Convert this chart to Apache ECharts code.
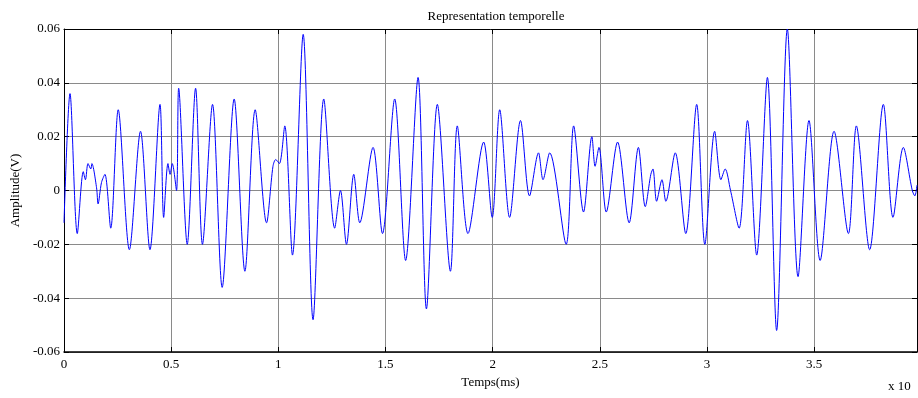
<!DOCTYPE html>
<html>
<head>
<meta charset="utf-8">
<script src="https://cdn.jsdelivr.net/npm/echarts@6/dist/echarts.min.js"></script>
<style>
  html, body { margin: 0; padding: 0; background: #fff; }
  #chart { width: 918px; height: 398px; }
</style>
</head>
<body>
<div id="chart"></div>
<script>
// temps (x 10^-3) et amplitude (V)
var temps = [
    0.000, 0.028, 0.062, 0.090, 0.100, 0.112, 0.125, 0.130, 0.152, 0.159,
    0.175, 0.191, 0.218, 0.253, 0.305, 0.357, 0.401, 0.448, 0.465, 0.485,
    0.495, 0.505, 0.525, 0.535, 0.575, 0.614, 0.646, 0.693, 0.738, 0.794,
    0.844, 0.892, 0.945, 0.975, 0.988, 1.005, 1.030, 1.066, 1.116, 1.162,
    1.212, 1.263, 1.290, 1.318, 1.352, 1.380, 1.442, 1.486, 1.543, 1.594,
    1.652, 1.691, 1.742, 1.803, 1.835, 1.885, 1.958, 1.998, 2.033, 2.079,
    2.130, 2.172, 2.214, 2.235, 2.266, 2.343, 2.378, 2.424, 2.463, 2.478,
    2.496, 2.530, 2.583, 2.637, 2.680, 2.712, 2.738, 2.748, 2.765, 2.790,
    2.808, 2.852, 2.901, 2.952, 2.990, 3.036, 3.065, 3.085, 3.110, 3.150,
    3.189, 3.232, 3.282, 3.325, 3.375, 3.425, 3.476, 3.528, 3.593, 3.660,
    3.697, 3.759, 3.823, 3.868, 3.916, 3.958, 3.970, 3.980
];
var amplitude = [
    -0.012, 0.036, -0.016, 0.007, 0.004, 0.010, 0.008, 0.010, 0.001, -0.005,
    0.003, 0.006, -0.014, 0.030, -0.022, 0.022, -0.022, 0.032, -0.010, 0.010,
    0.006, 0.010, 0.000, 0.038, -0.020, 0.038, -0.020, 0.032, -0.036, 0.034,
    -0.030, 0.030, -0.012, 0.009, 0.0115, 0.010, 0.024, -0.024, 0.058, -0.048,
    0.034, -0.014, 0.000, -0.020, 0.006, -0.012, 0.016, -0.016, 0.034, -0.026,
    0.042, -0.044, 0.032, -0.030, 0.024, -0.016, 0.018, -0.010, 0.030, -0.010,
    0.026, -0.002, 0.014, 0.004, 0.014, -0.020, 0.024, -0.008, 0.020, 0.009,
    0.016, -0.008, 0.018, -0.012, 0.016, -0.006, 0.006, 0.008, -0.004, 0.004,
    -0.004, 0.014, -0.016, 0.032, -0.020, 0.022, 0.004, 0.008, 0.000, -0.014,
    0.026, -0.024, 0.042, -0.052, 0.060, -0.032, 0.026, -0.026, 0.022, -0.016,
    0.024, -0.022, 0.032, -0.010, 0.016, 0.000, -0.002, 0.002
];

var d = [];
for (var i = 0; i < temps.length; i++) {
    d.push([temps[i], amplitude[i]]);
}

var police = 'Liberation Serif';
var gris = '#8a8a8a';

option = {
    animation: false,
    title: {
        text: 'Representation temporelle',
        left: 491,
        top: 5,
        textAlign: 'center',
        textStyle: { fontFamily: police, fontSize: 13, fontWeight: 'normal', color: '#000' }
    },
    grid: { left: 64, right: 1, top: 29, bottom: 46 },
    xAxis: [
        {
            type: 'value', min: 0, max: 3.98, interval: 0.5,
            name: 'Temps(ms)', nameLocation: 'middle', nameGap: 24,
            nameTextStyle: { fontFamily: police, fontSize: 13, color: '#000' },
            axisLine: { onZero: false, lineStyle: { color: '#000', width: 1.5 } },
            axisTick: { inside: true, length: 5, lineStyle: { color: '#000' } },
            axisLabel: {
                fontFamily: police, fontSize: 13, color: '#000', margin: 6,
                showMaxLabel: false,
                formatter: function (v) { return String(Math.round(v * 10) / 10); }
            },
            splitLine: { show: true, lineStyle: { color: gris, width: 1 } }
        },
        {
            type: 'value', min: 0, max: 3.98, interval: 0.5, position: 'top',
            axisLine: { onZero: false, lineStyle: { color: '#000', width: 1 } },
            axisTick: { inside: true, length: 5, lineStyle: { color: '#000' } },
            axisLabel: { show: false },
            splitLine: { show: false }
        }
    ],
    yAxis: [
        {
            type: 'value', min: -0.06, max: 0.06, interval: 0.02,
            name: 'Amplitude(V)', nameLocation: 'middle', nameGap: 42,
            nameTextStyle: { fontFamily: police, fontSize: 13, color: '#000' },
            axisLine: { show: true, onZero: false, lineStyle: { color: '#000', width: 1 } },
            axisTick: { inside: true, length: 5, lineStyle: { color: '#000' } },
            axisLabel: {
                fontFamily: police, fontSize: 13, color: '#000', margin: 4,
                formatter: function (v) { return Math.abs(v) < 1e-9 ? '0' : v.toFixed(2); }
            },
            splitLine: { show: true, lineStyle: { color: gris, width: 1 } }
        },
        {
            type: 'value', min: -0.06, max: 0.06, interval: 0.02, position: 'right',
            axisLine: { show: true, onZero: false, lineStyle: { color: '#000', width: 1 } },
            axisTick: { inside: true, length: 5, lineStyle: { color: '#000' } },
            axisLabel: { show: false },
            splitLine: { show: false }
        }
    ],
    graphic: [
        {
            type: 'text', left: 888, top: 380,
            style: { text: 'x 10', font: '13px "Liberation Serif"', fill: '#000' }
        }
    ],
    series: [
        {
            type: 'line',
            data: d,
            showSymbol: false,
            smooth: 0.3,
            lineStyle: { color: '#0000ff', width: 1 },
            clip: true
        }
    ]
};

var myChart = echarts.init(document.getElementById('chart'));
myChart.setOption(option);
</script>
</body>
</html>
